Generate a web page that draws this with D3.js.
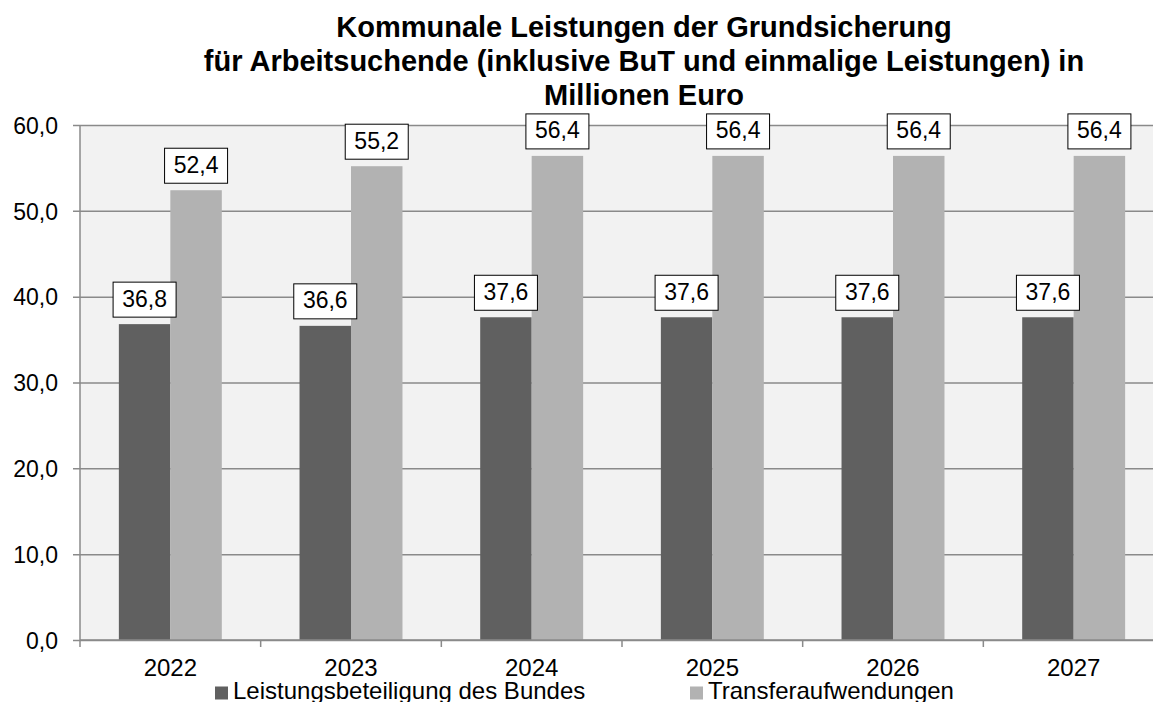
<!DOCTYPE html>
<html>
<head>
<meta charset="utf-8">
<script src="https://cdn.jsdelivr.net/npm/d3@7"></script>
<style>
  body { margin: 0; background: #fff; }
  svg { display: block; font-family: "Liberation Sans", Arial, sans-serif; }
</style>
</head>
<body>
<div id="chart"></div>
<script>
// data
const years = ["2022", "2023", "2024", "2025", "2026", "2027"]
const bund = [36.8, 36.6, 37.6, 37.6, 37.6, 37.6]
const transfer = [52.4, 55.2, 56.4, 56.4, 56.4, 56.4]
const seriesNames = ["Leistungsbeteiligung des Bundes", "Transferaufwendungen"]
const yTicks = [0, 10, 20, 30, 40, 50, 60]
const titleLines = [
    "Kommunale Leistungen der Grundsicherung",
    "für Arbeitsuchende (inklusive BuT und einmalige Leistungen) in",
    "Millionen Euro"
]

const colors = ["#606060", "#b2b2b2"]
const fmt = v => d3.format(".1f")(v).replace(".", ",")

let width = 1153,
    height = 702,
    plot = { left: 80, right: 1164, top: 125, bottom: 640 }

let svg = d3.select("#chart")
    .append("svg")
    .attr("width", width)
    .attr("height", height)

//scales
let x0 = d3.scaleBand()
    .domain(years)
    .range([plot.left, plot.right])

let x1 = d3.scaleBand()
    .domain([0, 1])
    .range([0, x0.bandwidth()])
    .paddingOuter(0.755)

let y = d3.scaleLinear()
    .domain([0, 60])
    .range([plot.bottom, plot.top])

//plot background
svg.append("rect")
    .attr("x", plot.left)
    .attr("y", plot.top)
    .attr("width", plot.right - plot.left)
    .attr("height", plot.bottom - plot.top)
    .style("fill", "#f2f2f2")

//gridlines + y axis
let yAxis = d3.axisLeft(y)
    .tickValues(yTicks)
    .tickSize(-(plot.right - plot.left))
    .tickSizeOuter(0)
    .tickPadding(22)
    .tickFormat(fmt)

let gy = svg.append("g")
    .attr("transform", `translate(${plot.left},0)`)
    .call(yAxis)
gy.select(".domain").remove()
gy.selectAll(".tick line")
    .attr("x1", -7)
    .style("stroke", "#8a8a8a")
    .style("stroke-width", 1.5)
gy.selectAll(".tick text")
    .style("font-size", "23px")
    .style("fill", "#000")
    .attr("dy", "0.36em")

svg.append("line")
    .attr("x1", plot.left).attr("x2", plot.left)
    .attr("y1", plot.top).attr("y2", plot.bottom)
    .style("stroke", "#8a8a8a")
    .style("stroke-width", 1.5)

//bars
let groups = svg.selectAll(".year")
    .data(years)
    .enter().append("g")
    .attr("class", "year")
    .attr("transform", d => `translate(${x0(d)},0)`)

let values = [bund, transfer]
values.forEach((series, s) => {
    groups.append("rect")
        .attr("x", x1(s))
        .attr("y", (d, i) => y(series[i]))
        .attr("width", x1.bandwidth())
        .attr("height", (d, i) => y(0) - y(series[i]))
        .style("fill", colors[s])
})

//x axis
let gx = svg.append("g")
    .attr("transform", `translate(0,${plot.bottom})`)
    .call(d3.axisBottom(x0).tickSize(0))
gx.select(".domain")
    .attr("d", `M${plot.left},0H${plot.right}`)
    .style("stroke", "#8a8a8a")
    .style("stroke-width", 1.5)
gx.selectAll(".tick text")
    .attr("y", 36)
    .attr("dy", 0)
    .style("font-size", "24px")
    .style("fill", "#000")

//ticks at category boundaries
svg.selectAll(".xtick")
    .data(years)
    .enter().append("line")
    .attr("class", "xtick")
    .attr("x1", d => x0(d))
    .attr("x2", d => x0(d))
    .attr("y1", plot.bottom)
    .attr("y2", plot.bottom + 7)
    .style("stroke", "#8a8a8a")
    .style("stroke-width", 1.5)

//value labels in boxes
values.forEach((series, s) => {
    let lab = groups.append("g")
        .attr("transform", (d, i) =>
            `translate(${x1(s) + x1.bandwidth() / 2},${y(series[i]) - 7})`)
    lab.append("rect")
        .attr("x", -31.5)
        .attr("y", -35)
        .attr("width", 63)
        .attr("height", 35)
        .style("fill", "#fff")
        .style("stroke", "#000")
        .style("stroke-width", 1)
    lab.append("text")
        .attr("text-anchor", "middle")
        .attr("y", -10.5)
        .style("font-size", "23px")
        .text((d, i) => fmt(series[i]))
})

//title
svg.append("text")
    .attr("text-anchor", "middle")
    .style("font-size", "29px")
    .style("font-weight", "bold")
    .selectAll("tspan")
    .data(titleLines)
    .enter().append("tspan")
    .attr("x", 644)
    .attr("y", (d, i) => 37 + i * 34)
    .text(d => d)

//legend
let legendX = [215, 690]
seriesNames.forEach((name, s) => {
    svg.append("rect")
        .attr("x", legendX[s])
        .attr("y", 686.5)
        .attr("width", 13)
        .attr("height", 13)
        .style("fill", colors[s])
    svg.append("text")
        .attr("x", legendX[s] + 18)
        .attr("y", 699)
        .style("font-size", "24px")
        .text(name)
})
</script>
</body>
</html>
